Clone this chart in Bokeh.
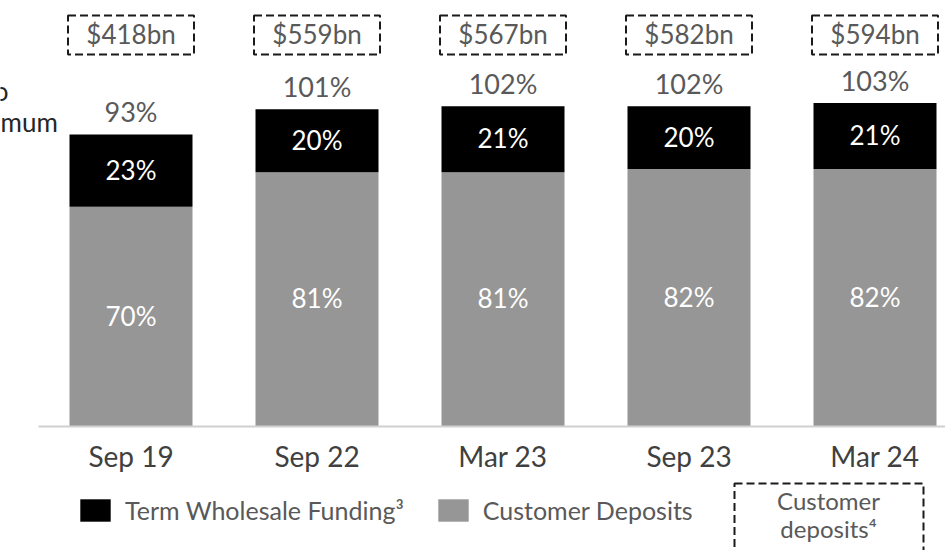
from bokeh.plotting import figure
from bokeh.models import Range1d, ColumnDataSource, Legend, LegendItem
from bokeh.core.properties import value
from bokeh.embed import file_html
from bokeh.resources import INLINE

# ---------------- data ----------------
periods = ["Sep 19", "Sep 22", "Mar 23", "Sep 23", "Mar 24"]
customer_deposits = [70, 81, 81, 82, 82]
term_wholesale = [23, 20, 21, 20, 21]
totals = [93, 101, 102, 102, 103]
funding_labels = ["$418bn", "$559bn", "$567bn", "$582bn", "$594bn"]

# ---------------- layout ----------------
W, H = 945, 550
PX_X = 186.0     # px per category
PX_Y = 3.14      # px per percentage point
X0 = 130.5       # canvas px of first category centre
Y0 = 426.0       # canvas px of the baseline

x_start = -X0 / PX_X
x_end = x_start + W / PX_X
y_end = Y0 / PX_Y
y_start = y_end - H / PX_Y


def dx(px):
    return x_start + px / PX_X


def dy(py):
    return y_end - py / PX_Y


FONT_NAME = "Lato"
FONT = value(FONT_NAME)
GREY_TXT = "#595959"

xs = list(range(len(periods)))
src = ColumnDataSource(dict(
    x=xs,
    period=periods,
    deposits=customer_deposits,
    wholesale=term_wholesale,
    totals=totals,
    funding=funding_labels,
    dep_mid=[d / 2 for d in customer_deposits],
    whl_mid=[d + w / 2 for d, w in zip(customer_deposits, term_wholesale)],
    dep_lbl=[f"{v}%" for v in customer_deposits],
    whl_lbl=[f"{v}%" for v in term_wholesale],
    tot_lbl=[f"{v}%" for v in totals],
))

p = figure(width=W, height=H, output_backend="svg", toolbar_location=None,
           x_range=Range1d(x_start, x_end), y_range=Range1d(y_start, y_end),
           min_border=0, min_border_left=0, min_border_right=0,
           min_border_top=0, min_border_bottom=0)
p.xaxis.visible = False
p.yaxis.visible = False
p.grid.visible = False
p.outline_line_color = None
p.background_fill_color = "white"
p.border_fill_color = "white"

bar_w = 123 / PX_X
rs = p.vbar_stack(["deposits", "wholesale"], x="x", width=bar_w,
                  color=["#969696", "#000000"], line_color=None, source=src)

# baseline axis line
p.segment(x0=[dx(38)], y0=[0], x1=[x_end], y1=[0], line_color="#d0d0d0", line_width=2)

# category labels
p.text(x="x", y=0, text="period", source=src, text_font=FONT, text_font_size="28px",
       text_color="#404040", text_align="center", text_baseline="alphabetic", y_offset=29)

# segment labels
p.text(x="x", y="dep_mid", text="dep_lbl", source=src, text_font=FONT, text_font_size="26px",
       text_color="white", text_align="center", text_baseline="alphabetic", y_offset=-1)
p.text(x="x", y="whl_mid", text="whl_lbl", source=src, text_font=FONT, text_font_size="26px",
       text_color="white", text_align="center", text_baseline="alphabetic", y_offset=-1)

# totals
p.text(x="x", y="totals", text="tot_lbl", source=src, text_font=FONT, text_font_size="27px",
       text_color=GREY_TXT, text_align="center", text_baseline="alphabetic", y_offset=-23)

# funding boxes on top
p.rect(x="x", y=dy(34.5), width=126 / PX_X, height=39 / PX_Y, source=src,
       fill_color=None, line_color="#1a1a1a", line_width=2, line_dash="8 4")
p.text(x="x", y=dy(33), text="funding", source=src, text_font=FONT, text_font_size="26px",
       text_color=GREY_TXT, text_align="center", text_baseline="alphabetic")

# clipped side note on the left
p.text(x=[dx(8), dx(58)], y=[dy(90.5), dy(121.5)], text=["Above 100% ratio", "regulatory minimum"],
       text_font=FONT, text_font_size="26px", text_color="#262626",
       text_align="right", text_baseline="alphabetic")

# dashed note box bottom right
p.quad(left=[dx(734)], right=[dx(923)], top=[dy(483)], bottom=[y_start - 5],
       fill_color=None, line_color="#1a1a1a", line_width=2, line_dash="8 4")
p.text(x=[dx(828), dx(828)], y=[dy(500), dy(527.5)], text=["Customer", "deposits\u2074"],
       text_font=FONT, text_font_size="24px", text_color=GREY_TXT,
       text_align="center", text_baseline="alphabetic")

legend = Legend(items=[
    LegendItem(label="Term Wholesale Funding\u00b3", renderers=[rs[1]]),
    LegendItem(label="Customer Deposits", renderers=[rs[0]]),
], location=(76, 25), orientation="horizontal", glyph_width=38, glyph_height=28,
    label_standoff=11, spacing=30, padding=0, margin=0,
    label_text_font=FONT_NAME, label_text_font_size="25px", label_text_color=GREY_TXT,
    border_line_color=None, background_fill_alpha=0)
p.add_layout(legend)

open("out.html", "w").write(file_html(p, INLINE))
